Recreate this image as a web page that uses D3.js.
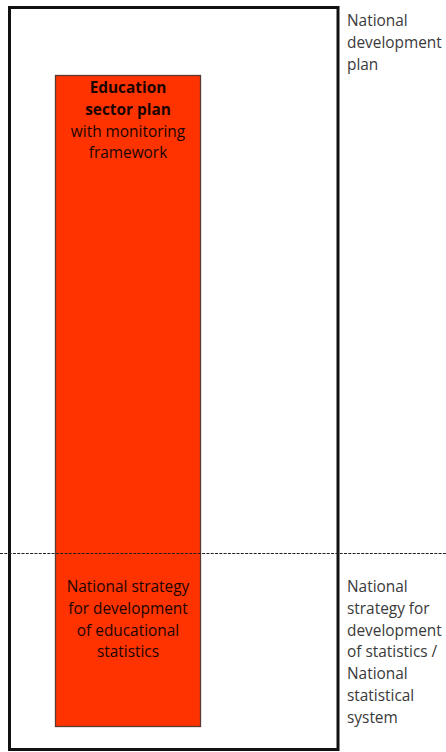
<!DOCTYPE html>
<html>
<head>
<meta charset="utf-8">
<script src="https://cdn.jsdelivr.net/npm/d3@7"></script>
<style>
  html, body { margin: 0; padding: 0; background: #fff; }
  svg { display: block; }
  text { font-family: "Open Sans", Lato, sans-serif; font-size: 15.4px; }
</style>
</head>
<body>
<svg width="446" height="752"></svg>
<script>
// Diagram content
var outerLabel = ['National', 'development', 'plan'];
var statsLabel = ['National', 'strategy for', 'development', 'of statistics /', 'National', 'statistical', 'system'];
var sectorTitle = ['Education', 'sector plan'];
var sectorBody = ['with monitoring', 'framework'];
var strategyLabel = ['National strategy', 'for development', 'of educational', 'statistics'];

var W = 446, H = 752;
var svg = d3.select('svg');
var lineH = 21.8;

// outer frame (national development plan)
svg.append('rect')
    .attr('x', 9.5).attr('y', 7.5)
    .attr('width', 328.5).attr('height', 742)
    .style('fill', '#fff')
    .style('stroke', '#111')
    .style('stroke-width', 3);

// red sector bar
svg.append('rect')
    .attr('x', 55.5).attr('y', 75.5)
    .attr('width', 145).attr('height', 651)
    .style('fill', '#ff3300')
    .style('stroke', '#5a3a30')
    .style('stroke-width', 1.3);

// dashed divider
svg.append('line')
    .attr('x1', 0).attr('x2', W)
    .attr('y1', 553.5).attr('y2', 553.5)
    .style('stroke', '#222')
    .style('stroke-width', 1.1)
    .style('stroke-dasharray', '3,1.3');

function block(lines, x, y0, anchor, color, weight) {
    svg.append('g').selectAll('text')
        .data(lines)
        .enter()
        .append('text')
        .attr('x', x)
        .attr('y', function(d, i) { return y0 + i * lineH; })
        .attr('text-anchor', anchor)
        .style('fill', color)
        .style('font-weight', weight)
        .text(function(d) { return d; });
}

block(outerLabel, 347, 26, 'start', '#3a3a3a', 'normal');
block(statsLabel, 347, 592, 'start', '#3a3a3a', 'normal');
block(sectorTitle, 128, 93, 'middle', '#1a0500', 'bold');
block(sectorBody, 128, 93 + 2 * lineH, 'middle', '#1a0500', 'normal');
block(strategyLabel, 128, 592, 'middle', '#1a0500', 'normal');
</script>
</body>
</html>
